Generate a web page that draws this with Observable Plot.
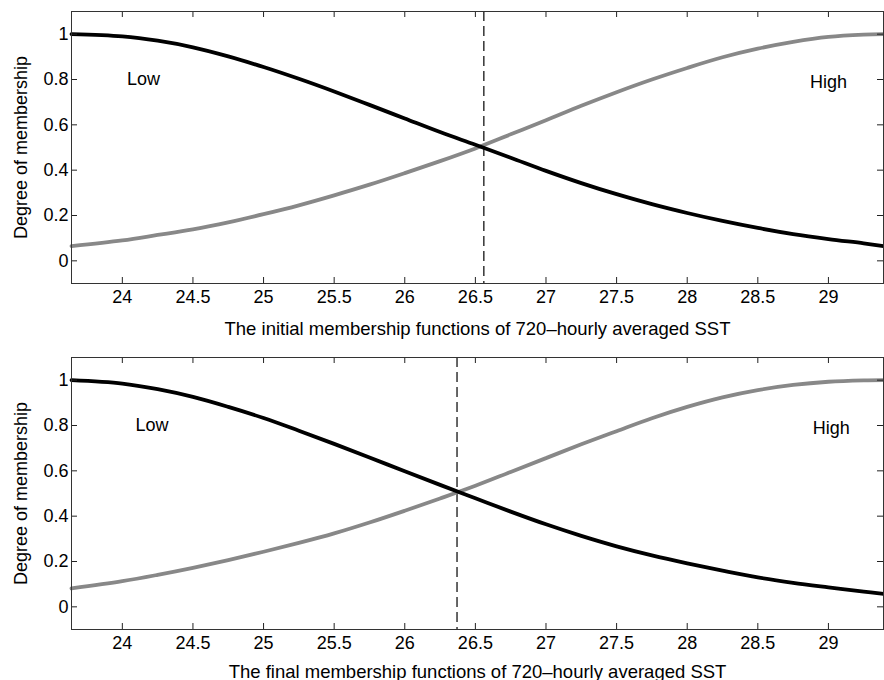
<!DOCTYPE html>
<html><head><meta charset="utf-8">
<script src="https://cdn.jsdelivr.net/npm/d3@7"></script>
<script src="https://cdn.jsdelivr.net/npm/@observablehq/plot@0.6"></script>
<style>
body{margin:0;background:#fff;}
#chart svg{display:block;}
</style>
</head><body><div id="chart"></div>
<script>
// Top panel: initial membership functions
const sstTop   = [23.64, 24.0, 24.25, 24.5, 24.75, 25.0, 25.25, 25.5, 25.75, 26.0, 26.25, 26.5, 26.75, 27.0, 27.25, 27.5, 27.75, 28.0, 28.25, 28.5, 28.75, 29.0, 29.25, 29.39];
const lowTop   = [1.0, 0.99, 0.971, 0.942, 0.902, 0.855, 0.803, 0.747, 0.688, 0.628, 0.568, 0.512, 0.455, 0.397, 0.343, 0.294, 0.25, 0.211, 0.176, 0.145, 0.118, 0.096, 0.077, 0.065];
const highTop  = [0.065, 0.09, 0.114, 0.139, 0.17, 0.206, 0.245, 0.289, 0.336, 0.387, 0.44, 0.496, 0.558, 0.62, 0.684, 0.744, 0.8, 0.851, 0.898, 0.936, 0.966, 0.988, 0.998, 1.0];
// Bottom panel: final membership functions
const sstBottom  = [23.64, 24.0, 24.25, 24.5, 24.75, 25.0, 25.25, 25.5, 25.75, 26.0, 26.25, 26.5, 26.75, 27.0, 27.25, 27.5, 27.75, 28.0, 28.25, 28.5, 28.75, 29.0, 29.25, 29.39];
const lowBottom  = [1.0, 0.985, 0.96, 0.926, 0.882, 0.833, 0.777, 0.719, 0.659, 0.598, 0.538, 0.479, 0.42, 0.364, 0.313, 0.267, 0.227, 0.192, 0.16, 0.13, 0.106, 0.086, 0.067, 0.057];
const highBottom = [0.081, 0.113, 0.141, 0.172, 0.206, 0.243, 0.282, 0.324, 0.372, 0.424, 0.478, 0.534, 0.595, 0.656, 0.717, 0.775, 0.832, 0.882, 0.924, 0.956, 0.979, 0.993, 0.999, 1.0];

const crossTop = 26.56;
const crossBottom = 26.37;
const xTicks = [24, 24.5, 25, 25.5, 26, 26.5, 27, 27.5, 28, 28.5, 29];
const yTicks = [0, 0.2, 0.4, 0.6, 0.8, 1];
const xDomain = [23.64, 29.39];
const yDomain = [-0.1, 1.1];
const yLabel = "Degree of membership";
const titleTop = "The initial membership functions of 720\u2013hourly averaged SST";
const titleBottom = "The final membership functions of 720\u2013hourly averaged SST";
const labelNames = ["Low", "High"];
const labelXTop = [24.15, 29.0];
const labelXBottom = [24.21, 29.02];
const labelY = [0.80, 0.79];

const W = 884, ML = 71, MR = 1, TICK = 6;

function panel({sst, low, high, cross, title, labelX, height, marginTop, marginBottom, titleDy}) {
  const lowData = sst.map((x, i) => ({x, y: low[i]}));
  const highData = sst.map((x, i) => ({x, y: high[i]}));
  const labels = labelNames.map((t, i) => ({t, x: labelX[i], y: labelY[i]}));
  const fw = W - ML - MR;
  const fh = height - marginTop - marginBottom;
  return Plot.plot({
    width: W,
    height,
    marginLeft: ML,
    marginRight: MR,
    marginTop,
    marginBottom,
    style: {fontFamily: "'Liberation Sans', Arial, sans-serif", fontSize: "18px", color: "#000", background: "#fff", overflow: "visible"},
    x: {domain: xDomain},
    y: {domain: yDomain},
    marks: [
      Plot.ruleX([cross], {stroke: "#000", strokeWidth: 1.2, strokeDasharray: "10,5"}),
      Plot.line(highData, {x: "x", y: "y", stroke: "#888", strokeWidth: 3.8, curve: "catmull-rom"}),
      Plot.line(lowData, {x: "x", y: "y", stroke: "#000", strokeWidth: 3.8, curve: "catmull-rom"}),
      Plot.text(labels, {x: "x", y: "y", text: "t", fontSize: 18, fill: "#000"}),
      // inward tick marks on all four sides
      Plot.tickX(xTicks, {x: d => d, stroke: "#222", insetTop: fh - TICK}),
      Plot.tickX(xTicks, {x: d => d, stroke: "#222", insetBottom: fh - TICK}),
      Plot.tickY(yTicks, {y: d => d, stroke: "#222", insetRight: fw - TICK}),
      Plot.tickY(yTicks, {y: d => d, stroke: "#222", insetLeft: fw - TICK}),
      Plot.axisX({ticks: xTicks, tickSize: 0, tickPadding: 7, tickFormat: String, label: null, fontSize: 18}),
      Plot.axisY({ticks: yTicks, tickSize: 0, tickPadding: 3, tickFormat: String, label: null, fontSize: 18}),
      Plot.text([title], {text: d => d, frameAnchor: "bottom", dy: titleDy, lineAnchor: "bottom", fontSize: 18.5, fill: "#000"}),
      Plot.text([yLabel], {text: d => d, frameAnchor: "left", dx: -50, rotate: -90, textAnchor: "middle", lineAnchor: "middle", fontSize: 18, fill: "#000"}),
      Plot.frame({stroke: "#333", strokeWidth: 1})
    ]
  });
}

const chart = document.getElementById("chart");
chart.append(panel({sst: sstTop, low: lowTop, high: highTop, cross: crossTop, title: titleTop, labelX: labelXTop, height: 340, marginTop: 11, marginBottom: 57, titleDy: 51}));
chart.append(panel({sst: sstBottom, low: lowBottom, high: highBottom, cross: crossBottom, title: titleBottom, labelX: labelXBottom, height: 340, marginTop: 17, marginBottom: 51, titleDy: 48}));
</script>
</body></html>
